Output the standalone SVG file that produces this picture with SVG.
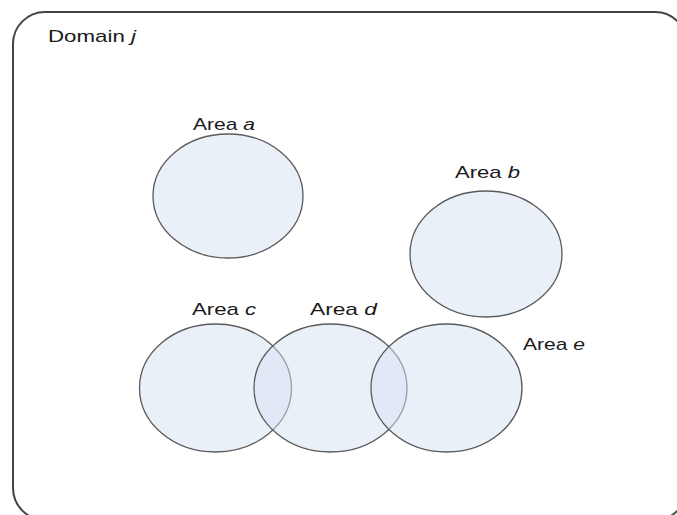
<svg xmlns="http://www.w3.org/2000/svg" width="677" height="515" viewBox="0 0 677 515">
<style>
.area{fill:#d6e2f2;fill-opacity:0.5;stroke:#5a5a5a;stroke-width:1.3}
text{font-family:"Liberation Sans",Arial,sans-serif;font-size:17px;fill:#1a1a1a}
</style>
<rect width="677" height="515" fill="#ffffff"/>
<g id="domain">
<rect x="13" y="12" width="674" height="508" rx="32" ry="32" fill="none" stroke="#444" stroke-width="2"/>
<text x="48" y="42" textLength="88" lengthAdjust="spacingAndGlyphs">Domain <tspan font-style="italic">j</tspan></text>
</g>
<g id="area-a">
<ellipse class="area" cx="228" cy="196" rx="75" ry="62"/>
<text x="193" y="130" textLength="62" lengthAdjust="spacingAndGlyphs">Area <tspan font-style="italic">a</tspan></text>
</g>
<g id="area-b">
<ellipse class="area" cx="486" cy="254" rx="76" ry="63"/>
<text x="455" y="178" textLength="65" lengthAdjust="spacingAndGlyphs">Area <tspan font-style="italic">b</tspan></text>
</g>
<g id="area-c">
<ellipse class="area" cx="215.5" cy="388" rx="76" ry="64"/>
<text x="192" y="315" textLength="64" lengthAdjust="spacingAndGlyphs">Area <tspan font-style="italic">c</tspan></text>
</g>
<g id="area-d">
<ellipse class="area" cx="330.5" cy="388" rx="76.5" ry="64"/>
<text x="310" y="315" textLength="67" lengthAdjust="spacingAndGlyphs">Area <tspan font-style="italic">d</tspan></text>
</g>
<g id="area-e">
<ellipse class="area" cx="446.5" cy="388" rx="75.5" ry="64"/>
<text x="523" y="350" textLength="62" lengthAdjust="spacingAndGlyphs">Area <tspan font-style="italic">e</tspan></text>
</g>
<g id="connectors"></g>
</svg>
